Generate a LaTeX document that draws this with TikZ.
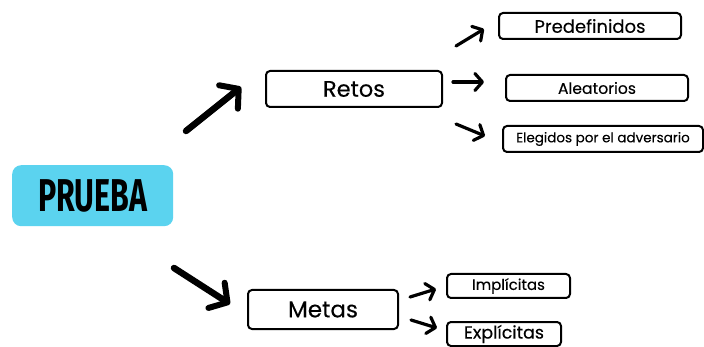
\documentclass[tikz,border=0pt]{standalone}
\usepackage{fontspec}
\setmainfont{Poppins}[FakeBold=0.2]
\newfontfamily\titlefont{Fira Sans}
\usetikzlibrary{arrows.meta}
\definecolor{titlecyan}{HTML}{5BD3EF}
\tikzset{
  x=1pt, y=-1pt,
  itembox/.style={draw=black, line width=2pt, rounded corners=4pt, inner sep=0pt, anchor=north west},
  bigarrow/.style={line width=6.5pt, line cap=round, -{Straight Barb[length=13pt,width=30pt,line width=6pt,round]}},
  smallarrow/.style={line width=3.2pt, line cap=round, -{Straight Barb[length=7.5pt,width=17pt,line width=3.2pt,round]}}
}
\begin{document}
\begin{tikzpicture}
\useasboundingbox (0,0) rectangle (704,347);
% root node
\node[fill=titlecyan, rounded corners=9pt, minimum width=161pt, minimum height=61pt, inner sep=0pt, anchor=north west] (prueba) at (12,165) {};
\node[xscale=0.66, font=\titlefont\bfseries\fontsize{46}{46}\selectfont] (pruebatext) at (prueba.center) {PRUEBA};
% second level
\node[itembox, minimum width=176pt, minimum height=36pt, font=\fontsize{22.5}{22.5}\selectfont] (retos) at (265,70) {Retos};
\node[itembox, minimum width=150pt, minimum height=39pt, font=\fontsize{23}{23}\selectfont] (metas) at (247,289) {Metas};
% third level
\node[itembox, minimum width=182pt, minimum height=26pt, font=\fontsize{18}{18}\selectfont] (predef) at (498,12) {Predefinidos};
\node[itembox, minimum width=182pt, minimum height=26pt, font=\fontsize{15.6}{15.6}\selectfont] (aleat) at (505,74) {Aleatorios};
\node[itembox, minimum width=200pt, minimum height=26pt, font=\fontsize{13.5}{13.5}\selectfont] (eleg) at (502,125) {Elegidos por el adversario};
\node[itembox, minimum width=123pt, minimum height=24pt, font=\fontsize{15}{15}\selectfont] (impl) at (446,273) {Implícitas};
\node[itembox, minimum width=114pt, minimum height=24pt, font=\fontsize{17.5}{17.5}\selectfont] (expl) at (446,321) {Explícitas};
% arrow end points
\coordinate (a1s) at (186,131); \coordinate (a1e) at (241,87);
\coordinate (a2s) at (174,268); \coordinate (a2e) at (230,304);
\coordinate (b1s) at (456,46);  \coordinate (b1e) at (484,29);
\coordinate (b2s) at (453,82);  \coordinate (b2e) at (484,82);
\coordinate (b3s) at (456,124); \coordinate (b3e) at (485,136);
\coordinate (c1s) at (410,297); \coordinate (c1e) at (436,289);
\coordinate (c2s) at (411,320); \coordinate (c2e) at (437,328);
% connectors
\draw[bigarrow] (a1s) -- (a1e);
\draw[bigarrow] (a2s) -- (a2e);
\draw[smallarrow] (b1s) -- (b1e);
\draw[smallarrow] (b2s) -- (b2e);
\draw[smallarrow] (b3s) -- (b3e);
\draw[smallarrow] (c1s) -- (c1e);
\draw[smallarrow] (c2s) -- (c2e);
\end{tikzpicture}
\end{document}
